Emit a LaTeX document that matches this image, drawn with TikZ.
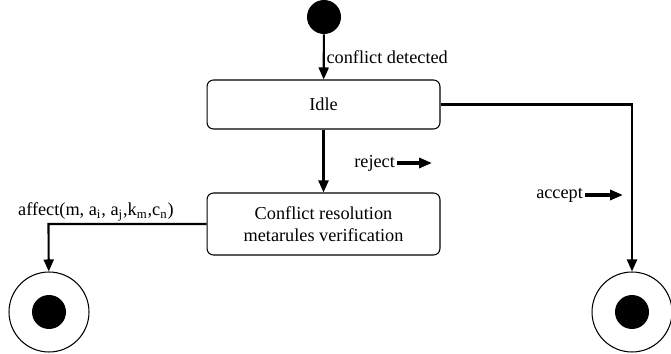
\documentclass[tikz,border=0pt]{standalone}
\usepackage{fontspec}
\setmainfont{Liberation Serif}
\usepackage{tikz}
\usetikzlibrary{arrows.meta, positioning}

\begin{document}
\begin{tikzpicture}[
    x=0.02cm, y=-0.02cm,
    font=\fontsize{10.4}{12.5}\selectfont,
    initial/.style={circle, fill, minimum size=0.68cm, inner sep=0pt},
    final/.style={circle, draw, semithick, minimum size=1.6cm, inner sep=0pt,
      path picture={\fill (path picture bounding box.center) circle (0.34cm);}},
    state/.style={rectangle, draw, semithick, rounded corners=0.13cm, minimum width=4.66cm, align=center},
    arrow/.style={-{Triangle[length=0.24cm, width=0.2cm]}, line width=1.2pt},
    flag/.style={-{Triangle[length=0.26cm, width=0.2cm]}, line width=1.8pt}
    ]
    \useasboundingbox (0,0) rectangle (671,354);

    \node[initial] (init) at (324,17) {};
    \node[state, minimum height=0.98cm] (idle) at (323.5,104.5) {Idle};
    \node[state, minimum height=1.24cm] (resolve) at (323.5,224) {Conflict resolution\\metarules verification};
    \node[final] (endL) at (49,312) {};
    \node[final] (endR) at (632,312) {};

    \draw[arrow] (init) -- node[right, inner sep=1pt] {conflict detected} (idle);
    \draw[arrow] (idle) -- (resolve);
    \draw[arrow] (resolve.west) -- ++(-158,0) node[pos=0.7, above, inner sep=1pt]
      {affect(m, a\textsubscript{i}, a\textsubscript{j},k\textsubscript{m},c\textsubscript{n})} -- (endL);
    \draw[arrow] (idle.east) -| (endR);

    \node[anchor=east, inner sep=1pt] (reject) at (397,163) {reject};
    \coordinate (rejtip) at (432,163);
    \draw[flag] (reject) -- (rejtip);

    \node[anchor=east, inner sep=1pt] (accept) at (585,195) {accept};
    \coordinate (acctip) at (623,195);
    \draw[flag] (accept) -- (acctip);
\end{tikzpicture}
\end{document}
